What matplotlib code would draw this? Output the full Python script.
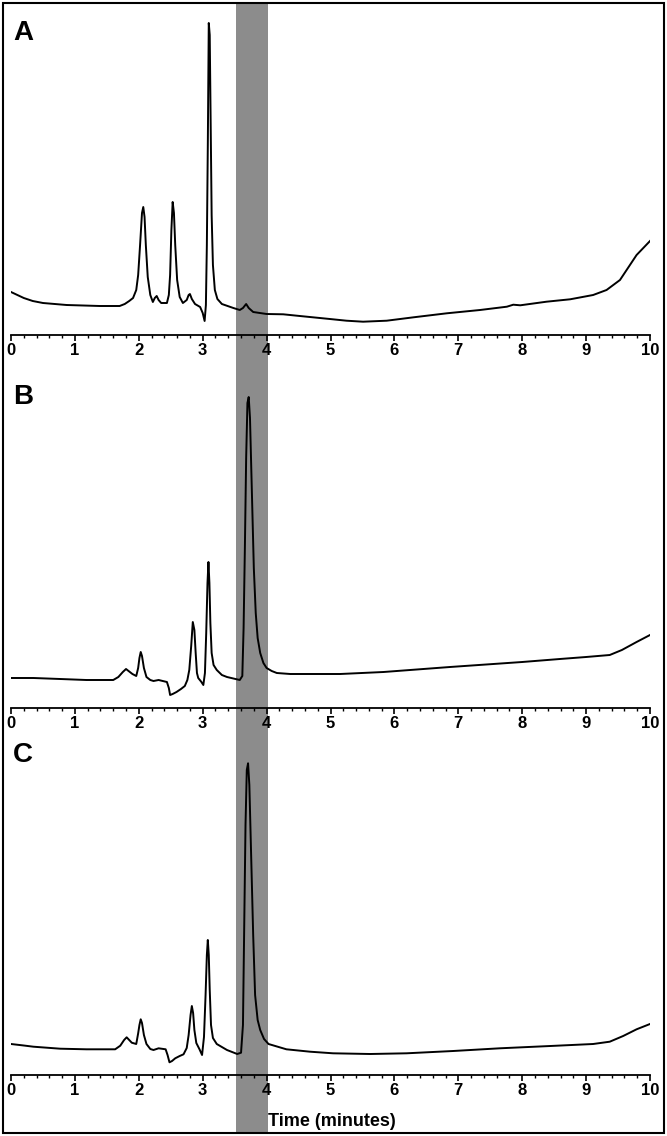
import matplotlib
matplotlib.use("Agg")
import matplotlib.pyplot as plt
from matplotlib.patches import Rectangle
from matplotlib.ticker import MultipleLocator

# retention time (min) and detector signal (arbitrary units)
tA = [0.0, 0.1, 0.2, 0.34, 0.5, 0.87, 1.39, 1.70, 1.78, 1.85, 1.91, 1.96, 1.99, 2.02,
      2.05, 2.07, 2.09, 2.11, 2.14, 2.18, 2.22, 2.25, 2.28, 2.31, 2.35, 2.44, 2.47, 2.49,
      2.51, 2.53, 2.55, 2.57, 2.60, 2.64, 2.69, 2.75, 2.78, 2.80, 2.83, 2.88, 2.96, 3.00,
      3.03, 3.05, 3.065, 3.08, 3.095, 3.11, 3.125, 3.14, 3.16, 3.19, 3.23, 3.30, 3.48,
      3.58, 3.63, 3.68, 3.72, 3.79, 4.00, 4.26, 4.52, 4.99, 5.25, 5.51, 5.88, 6.30, 6.82,
      7.34, 7.76, 7.86, 7.97, 8.38, 8.75, 9.11, 9.32, 9.53, 9.79, 10.0]
yA = [43, 40, 37, 34, 32, 30, 29, 29, 31, 34, 37, 45, 60, 90,
      122, 128, 118, 90, 58, 40, 33, 37, 39, 35, 32, 32, 40, 60,
      105, 133, 122, 90, 55, 38, 32, 35, 40, 41, 36, 31, 28, 22,
      14, 30, 90, 190, 312, 300, 210, 120, 70, 45, 36, 31, 27,
      25, 27, 31, 27, 23, 21, 20.7, 19, 16, 14.3, 13.3, 14.3, 17.7, 21.7,
      25, 28.3, 30.3, 29.7, 33.3, 35.7, 40, 45, 55, 80, 94]

tB = [0.0, 0.35, 0.77, 1.18, 1.60, 1.68, 1.75, 1.80, 1.84, 1.90, 1.96, 1.99, 2.01, 2.03,
      2.05, 2.08, 2.12, 2.18, 2.23, 2.31, 2.44, 2.47, 2.49, 2.53, 2.59, 2.66, 2.72, 2.76,
      2.79, 2.82, 2.845, 2.87, 2.89, 2.91, 2.93, 2.98, 3.01, 3.035, 3.055, 3.075, 3.09,
      3.105, 3.12, 3.14, 3.17, 3.22, 3.30, 3.38, 3.58, 3.62, 3.64, 3.66, 3.68, 3.70, 3.72,
      3.74, 3.76, 3.78, 3.80, 3.83, 3.86, 3.90, 3.95, 4.00, 4.08, 4.16, 4.37, 5.15, 5.83,
      6.87, 8.0, 8.59, 9.0, 9.37, 9.56, 9.79, 10.0]
yB = [30, 30, 29, 28, 28, 31, 36, 39, 37, 34, 32, 40, 50, 56,
      52, 40, 31, 28, 27, 28, 26, 20, 13, 14, 16, 19, 22, 28,
      38, 62, 86, 78, 55, 35, 30, 26, 23, 35, 75, 125, 146,
      125, 85, 55, 43, 38, 33, 31, 28, 32, 80, 160, 250, 305, 311,
      290, 240, 190, 140, 95, 70, 55, 45, 40, 37, 35, 34, 34, 36,
      41, 46, 49, 51, 53, 58, 66, 73]

tC = [0.0, 0.2, 0.35, 0.77, 1.18, 1.63, 1.71, 1.77, 1.81, 1.85, 1.89, 1.96, 1.99, 2.01,
      2.03, 2.05, 2.08, 2.12, 2.18, 2.23, 2.31, 2.42, 2.45, 2.48, 2.52, 2.57, 2.64, 2.70,
      2.75, 2.78, 2.81, 2.83, 2.85, 2.87, 2.90, 2.95, 2.99, 3.02, 3.045, 3.065, 3.08,
      3.095, 3.11, 3.13, 3.16, 3.22, 3.38, 3.54, 3.60, 3.63, 3.65, 3.67, 3.69, 3.71, 3.73,
      3.75, 3.77, 3.79, 3.82, 3.86, 3.90, 3.96, 4.03, 4.31, 4.68, 5.04, 5.62, 6.19, 6.92,
      7.65, 8.44, 9.11, 9.37, 9.58, 9.79, 10.0]
yC = [31, 29.5, 28.3, 26.3, 25.7, 25.7, 29.3, 35, 37.7, 35, 32.3, 31, 41.7, 50,
      55.7, 52, 40, 31, 26, 25, 26.7, 25.7, 20, 12.7, 14, 16.7, 19, 20.7,
      27, 40, 60, 69, 62, 45, 32, 25.7, 20, 38, 80, 120, 135,
      120, 85, 50, 37, 31, 25, 21, 22.3, 50, 150, 250, 305, 311.7, 290,
      240, 190, 140, 80, 55, 45, 36, 31, 25.7, 23.3, 21.7, 21, 21.7, 24,
      26.7, 29, 31, 33.3, 39, 45.7, 51]

panel_labels = ["A", "B", "C"]
band = (3.52, 4.02)   # shaded retention window
xlabel = "Time (minutes)"

W, H = 667, 1136
fig = plt.figure(figsize=(W / 100, H / 100), dpi=100)
font = ['Liberation Sans', 'DejaVu Sans']

left = 11 / W
width = 639 / W

# background axes for the grey band running through all three panels
bg = fig.add_axes([left, 3 / H, width, 1130 / H], zorder=0)
bg.set_xlim(0, 10)
bg.axvspan(band[0], band[1], color='#8c8c8c', lw=0)
bg.axis('off')

axis_y = [335, 708, 1075]   # pixel row of each time axis
label_y = [33, 397, 755]
series = [(tA, yA), (tB, yB), (tC, yC)]

for (t, y), ay, lab, ly in zip(series, axis_y, panel_labels, label_y):
    ax = fig.add_axes([left, 1 - ay / H, width, 325 / H], zorder=1)
    ax.patch.set_alpha(0)
    ax.plot(t, y, color='black', lw=1.4)
    ax.set_xlim(0, 10)
    ax.set_ylim(0, 325)
    for s in ['top', 'left', 'right']:
        ax.spines[s].set_visible(False)
    ax.spines['bottom'].set_linewidth(1.3)
    ax.set_yticks([])
    ax.xaxis.set_major_locator(MultipleLocator(1))
    ax.xaxis.set_minor_locator(MultipleLocator(0.2))
    ax.tick_params(axis='x', which='major', direction='out', length=4, width=1.2, pad=1.5)
    ax.tick_params(axis='x', which='minor', direction='out', length=2.3, width=1.0)
    for tl in ax.get_xticklabels():
        tl.set_fontfamily(font)
        tl.set_fontweight('bold')
        tl.set_fontsize(12)
    fig.text(13 / W, 1 - ly / H, lab, fontsize=20, fontweight='bold',
             family=font, ha='left', va='center')

fig.text(268 / W, 1 - 1122 / H, xlabel, fontsize=13, fontweight='bold',
         family=font, ha='left', va='center')

fig.add_artist(Rectangle((3 / W, 3 / H), 661 / W, 1130 / H, transform=fig.transFigure,
                         fill=False, edgecolor='black', lw=1.5))

fig.savefig("out.png", dpi=100)
